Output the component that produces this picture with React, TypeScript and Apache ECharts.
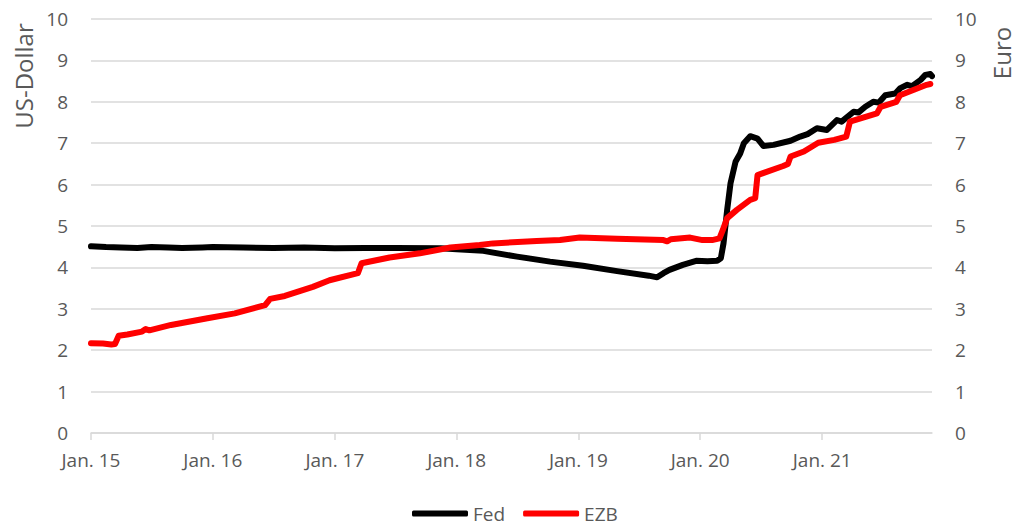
import React, { useEffect, useRef } from "react";
import * as echarts from "echarts";

const fedDates = [
  "2015-01-01", "2015-02-15", "2015-04-01", "2015-05-20", "2015-07-01", "2015-08-20", "2015-10-01", "2015-12-01",
  "2016-01-01", "2016-04-01", "2016-07-01", "2016-10-01", "2017-01-01", "2017-04-01", "2017-07-01", "2017-11-14",
  "2018-01-01", "2018-03-22", "2018-07-01", "2018-10-08", "2019-01-15", "2019-04-27", "2019-07-31", "2019-08-25",
  "2019-09-13", "2019-10-01", "2019-11-10", "2019-12-20", "2020-01-23", "2020-02-21", "2020-03-03", "2020-03-11",
  "2020-03-22", "2020-04-01", "2020-04-16", "2020-04-30", "2020-05-11", "2020-05-30", "2020-06-21", "2020-07-09",
  "2020-08-08", "2020-09-28", "2020-10-27", "2020-11-18", "2020-12-16", "2021-01-15", "2021-02-14", "2021-02-28",
  "2021-04-05", "2021-04-19", "2021-05-10", "2021-06-03", "2021-06-19", "2021-07-09", "2021-08-08", "2021-08-23",
  "2021-09-13", "2021-09-27", "2021-10-23", "2021-11-06", "2021-11-21", "2021-11-26",
];
const fedValues = [
  4.51, 4.49, 4.48, 4.47, 4.49, 4.48, 4.47, 4.48,
  4.49, 4.48, 4.47, 4.48, 4.46, 4.47, 4.47, 4.46,
  4.44, 4.40, 4.26, 4.14, 4.04, 3.91, 3.80, 3.76,
  3.86, 3.94, 4.06, 4.16, 4.15, 4.16, 4.22, 4.58,
  5.39, 6.03, 6.55, 6.75, 7.00, 7.17, 7.11, 6.93,
  6.96, 7.06, 7.16, 7.22, 7.36, 7.32, 7.56, 7.52,
  7.76, 7.74, 7.88, 8.00, 7.98, 8.16, 8.20, 8.33,
  8.41, 8.38, 8.53, 8.65, 8.67, 8.62,
];

const ezbDates = [
  "2015-01-01", "2015-02-06", "2015-03-03", "2015-03-14", "2015-03-25", "2015-04-20", "2015-06-03", "2015-06-14",
  "2015-06-25", "2015-08-29", "2015-12-16", "2016-03-07", "2016-06-06", "2016-06-21", "2016-08-04", "2016-10-27",
  "2016-12-16", "2017-03-11", "2017-03-22", "2017-06-14", "2017-09-13", "2017-12-13", "2018-03-11", "2018-04-20",
  "2018-08-29", "2018-11-07", "2019-01-05", "2019-04-27", "2019-09-13", "2019-09-24", "2019-10-05", "2019-12-02",
  "2020-01-08", "2020-02-06", "2020-02-28", "2020-03-11", "2020-03-22", "2020-04-20", "2020-05-30", "2020-06-14",
  "2020-06-21", "2020-09-06", "2020-09-20", "2020-09-28", "2020-11-07", "2020-12-20", "2021-02-06", "2021-03-14",
  "2021-03-25", "2021-06-14", "2021-06-25", "2021-08-11", "2021-08-22", "2021-11-10", "2021-11-21",
];
const ezbValues = [
  2.17, 2.16, 2.14, 2.15, 2.35, 2.38, 2.45, 2.51,
  2.48, 2.61, 2.77, 2.89, 3.09, 3.24, 3.31, 3.53,
  3.69, 3.86, 4.10, 4.24, 4.34, 4.48, 4.54, 4.58,
  4.64, 4.66, 4.72, 4.69, 4.66, 4.63, 4.68, 4.72,
  4.66, 4.66, 4.70, 4.95, 5.19, 5.39, 5.63, 5.67,
  6.23, 6.45, 6.50, 6.68, 6.80, 7.01, 7.08, 7.16,
  7.52, 7.72, 7.88, 8.00, 8.16, 8.41, 8.43,
];

const tickYears = [2015, 2016, 2017, 2018, 2019, 2020, 2021];
const axisStart = "2015-01-01";
const axisEnd = "2021-11-26";

const DAY = 86400000;
const baseMs = Date.UTC(2015, 0, 1);
// days since axisStart
const dayOf = (s: string) => {
  const [y, m, d] = s.split("-").map(Number);
  return Math.round((Date.UTC(y, m - 1, d) - baseMs) / DAY);
};
const yearOfDay = (v: number) => new Date(baseMs + Math.round(v) * DAY).getUTCFullYear();

const FONT = "'Open Sans', sans-serif";
const GRAY = "#595959";

export default function App() {
  const ref = useRef<HTMLDivElement>(null);
  useEffect(() => {
    if (!ref.current) return;
    const chart = echarts.init(ref.current, undefined, { renderer: "svg" });
    const tickVals = tickYears.map((y) => dayOf(`${y}-01-01`));
    chart.setOption({
      animation: false,
      backgroundColor: "#ffffff",
      grid: { left: 91, right: 84, top: 19, bottom: 95, containLabel: false },
      legend: {
        left: 407,
        top: 499,
        icon: "roundRect",
        itemWidth: 56,
        itemHeight: 6,
        itemGap: 18,
        textStyle: { color: GRAY, fontSize: 19, fontFamily: FONT },
        data: ["Fed", "EZB"],
      },
      xAxis: {
        type: "value",
        min: dayOf(axisStart),
        max: dayOf(axisEnd),
        axisLine: { show: true, lineStyle: { color: "#D9D9D9", width: 1.5 } },
        axisTick: {
          show: true,
          length: 7,
          lineStyle: { color: "#D9D9D9", width: 1.5 },
          customValues: tickVals,
        },
        axisLabel: {
          customValues: tickVals,
          color: GRAY,
          fontSize: 19,
          fontFamily: FONT,
          margin: 17,
          formatter: (v: number) => "Jan. " + String(yearOfDay(v)).slice(2),
        },
        splitLine: { show: false },
      },
      yAxis: [
        {
          type: "value",
          min: 0,
          max: 10,
          interval: 1,
          axisLine: { show: false },
          axisTick: { show: false },
          axisLabel: { color: GRAY, fontSize: 19, fontFamily: FONT, margin: 23 },
          splitLine: { show: true, lineStyle: { color: "#D9D9D9", width: 1.5 } },
        },
        {
          type: "value",
          min: 0,
          max: 10,
          interval: 1,
          position: "right",
          axisLine: { show: false },
          axisTick: { show: false },
          axisLabel: { color: GRAY, fontSize: 19, fontFamily: FONT, margin: 23 },
          splitLine: { show: false },
        },
      ],
      graphic: [
        {
          type: "text",
          x: 23,
          y: 76,
          rotation: Math.PI / 2,
          style: {
            text: "US-Dollar",
            fill: GRAY,
            font: `24px ${FONT}`,
            align: "center",
            verticalAlign: "middle",
          },
        },
        {
          type: "text",
          x: 1001,
          y: 53,
          rotation: Math.PI / 2,
          style: {
            text: "Euro",
            fill: GRAY,
            font: `24px ${FONT}`,
            align: "center",
            verticalAlign: "middle",
          },
        },
      ],
      series: [
        {
          name: "Fed",
          type: "line",
          yAxisIndex: 0,
          showSymbol: false,
          symbol: "none",
          lineStyle: { color: "#000000", width: 6, cap: "round", join: "round" },
          itemStyle: { color: "#000000" },
          data: fedDates.map((d, i) => [dayOf(d), fedValues[i]]),
          z: 3,
        },
        {
          name: "EZB",
          type: "line",
          yAxisIndex: 1,
          showSymbol: false,
          symbol: "none",
          lineStyle: { color: "#FF0000", width: 6, cap: "round", join: "round" },
          itemStyle: { color: "#FF0000" },
          data: ezbDates.map((d, i) => [dayOf(d), ezbValues[i]]),
          z: 4,
        },
      ],
    });
    return () => chart.dispose();
  }, []);
  return (
    <div
      ref={ref}
      style={{ position: "fixed", left: 0, top: 0, width: 1016, height: 528, background: "#fff" }}
    />
  );
}
